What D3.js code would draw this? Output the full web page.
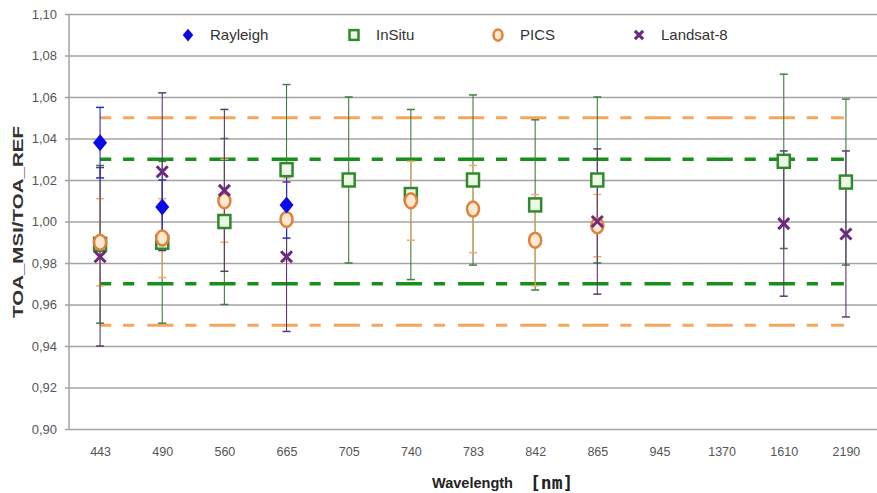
<!DOCTYPE html>
<html lang="en">
<head>
  <meta charset="UTF-8">
  <title>TOA_MSI / TOA_REF per band</title>
  <style>
    body { margin: 0; background: #fff; }
    svg { display: block; font-family: 'Liberation Sans', Arial, sans-serif; }
    .grid line { stroke: #a3a3a3; stroke-width: 1.5; }
    .ylab { font-size: 13px; fill: #555; }
    .xlab { font-size: 12.5px; fill: #555; }
    .leg { font-size: 15px; fill: #333; }
  </style>
  <script src="https://d3js.org/d3.v7.min.js"></script>
</head>
<body>
  <svg id="chart" width="877" height="493"></svg>
  <script>
    // bands (nm)
    const wavelengths = ["443", "490", "560", "665", "705", "740", "783", "842", "865", "945", "1370", "1610", "2190"];

    // ratio values and +/- uncertainty, null = no measurement
    const rayleigh    = [1.038, 1.007, null, 1.008, null, null, null, null, null, null, null, null, null];
    const rayleighErr = [0.017, 0.013, null, 0.016, null, null, null, null, null, null, null, null, null];
    const inSitu      = [0.989, 0.990, 1.000, 1.025, 1.020, 1.013, 1.020, 1.008, 1.020, null, null, 1.029, 1.019];
    const inSituErr   = [0.038, 0.039, 0.040, 0.041, 0.040, 0.041, 0.041, 0.041, 0.040, null, null, 0.042, 0.040];
    const pics        = [0.990, 0.992, 1.010, 1.001, null, 1.010, 1.006, 0.991, 0.998, null, null, null, null];
    const picsErr     = [0.021, 0.019, 0.020, 0.020, null, 0.019, 0.021, 0.022, 0.015, null, null, null, null];
    const landsat     = [0.983, 1.024, 1.015, 0.983, null, null, null, null, 1.000, null, null, 0.999, 0.994];
    const landsatErr  = [0.043, 0.038, 0.039, 0.036, null, null, null, null, 0.035, null, null, 0.035, 0.040];

    // requirement bands
    const picsLimits = [0.95, 1.05];
    const inSituLimits = [0.97, 1.03];

    const yTicks = [0.90, 0.92, 0.94, 0.96, 0.98, 1.00, 1.02, 1.04, 1.06, 1.08, 1.10];

    const svg = d3.select("#chart");
    const m = { left: 69, right: 877, top: 14, bottom: 429 };

    const x = d3.scalePoint().domain(wavelengths).range([m.left, m.right]).padding(0.5);
    const y = d3.scaleLinear().domain([0.90, 1.10]).range([m.bottom, m.top]);
    const step = x.step();
    const fmt = v => d3.format(".2f")(v).replace(".", ",");

    // grid + y axis
    const yAxis = d3.axisLeft(y).tickValues(yTicks).tickSize(0).tickFormat(fmt).tickPadding(8);
    const gy = svg.append("g").attr("class", "grid").attr("transform", `translate(${m.left - 4},0)`).call(yAxis);
    gy.select(".domain").remove();
    gy.selectAll("line").attr("x1", 0).attr("x2", m.right - m.left + 4);
    gy.selectAll("text").attr("class", "ylab").attr("x", -8);
    svg.append("line").attr("x1", m.left).attr("x2", m.left).attr("y1", m.top).attr("y2", m.bottom)
      .attr("stroke", "#a3a3a3").attr("stroke-width", 1.5);

    // x labels
    const gx = svg.append("g").attr("transform", `translate(0,${m.bottom})`)
      .call(d3.axisBottom(x).tickSize(0).tickPadding(18));
    gx.select(".domain").remove();
    gx.selectAll("text").attr("class", "xlab");

    // threshold dashed lines
    const dash = [0.42 * step, 0.19 * step, 0.18 * step, 0.21 * step].join(",");
    const x0 = x(wavelengths[0]), x1 = x(wavelengths[wavelengths.length - 1]);
    function limitLine(v, color, w) {
      svg.append("line").attr("x1", x0).attr("x2", x1 - 2).attr("y1", y(v)).attr("y2", y(v))
        .attr("stroke", color).attr("stroke-width", w)
        .attr("stroke-dasharray", dash).attr("stroke-dashoffset", 0.24 * step);
    }
    picsLimits.forEach(v => limitLine(v, "#f6a65c", 3));
    inSituLimits.forEach(v => limitLine(v, "#17901a", 3.5));

    const series = [
      { name: "InSitu", vals: inSitu, err: inSituErr, bar: "#3f7f3f", shape: "square" },
      { name: "PICS", vals: pics, err: picsErr, bar: "#f2aa6a", shape: "circle" },
      { name: "Landsat-8", vals: landsat, err: landsatErr, bar: "#5a3a6c", shape: "cross" },
      { name: "Rayleigh", vals: rayleigh, err: rayleighErr, bar: "#2b2bd0", shape: "diamond" }
    ];

    // error bars
    series.forEach(s => {
      const pts = wavelengths.map((w, i) => ({ w, v: s.vals[i], e: s.err[i] })).filter(d => d.v != null);
      const g = svg.append("g").attr("stroke", s.bar).attr("stroke-width", 1.1);
      g.selectAll(null).data(pts).join("line")
        .attr("x1", d => x(d.w)).attr("x2", d => x(d.w))
        .attr("y1", d => y(d.v + d.e)).attr("y2", d => y(d.v - d.e));
      [1, -1].forEach(sign => {
        g.selectAll(null).data(pts).join("line")
          .attr("x1", d => x(d.w) - 4).attr("x2", d => x(d.w) + 4)
          .attr("y1", d => y(d.v + sign * d.e)).attr("y2", d => y(d.v + sign * d.e))
          .attr("stroke-width", 1.5);
      });
    });

    function marker(g, shape, cx, cy, k) {
      if (shape === "square") {
        g.append("rect").attr("x", cx - 6 * k).attr("y", cy - 6.5 * k).attr("width", 12 * k).attr("height", 13 * k)
          .attr("fill", "#eef7e6").attr("stroke", "#2f8a2f").attr("stroke-width", 2.5);
      } else if (shape === "circle") {
        g.append("ellipse").attr("cx", cx).attr("cy", cy).attr("rx", 6 * k).attr("ry", 7.5 * k)
          .attr("fill", "#fde9d2").attr("stroke", "#e2813a").attr("stroke-width", 2.5);
      } else if (shape === "cross") {
        const r = 5.5 * k;
        g.append("path").attr("d", `M${cx - r},${cy - r}L${cx + r},${cy + r}M${cx - r},${cy + r}L${cx + r},${cy - r}`)
          .attr("stroke", "#6b2a80").attr("stroke-width", 3).attr("fill", "none");
      } else {
        const rx = 7 * k, ry = 8.5 * k;
        g.append("path").attr("d", `M${cx},${cy - ry}L${cx + rx},${cy}L${cx},${cy + ry}L${cx - rx},${cy}Z`)
          .attr("fill", "#0a0ae6");
      }
    }

    // markers
    series.forEach(s => {
      const g = svg.append("g");
      wavelengths.forEach((w, i) => {
        if (s.vals[i] != null) marker(g, s.shape, x(w), y(s.vals[i]), 1);
      });
    });

    // legend
    const legend = [
      { name: "Rayleigh", shape: "diamond", mx: 188 },
      { name: "InSitu", shape: "square", mx: 354 },
      { name: "PICS", shape: "circle", mx: 498 },
      { name: "Landsat-8", shape: "cross", mx: 639 }
    ];
    const gl = svg.append("g");
    legend.forEach(l => {
      marker(gl, l.shape, l.mx, 35, 0.75);
      gl.append("text").attr("class", "leg").attr("x", l.mx + 22).attr("y", 40).text(l.name);
    });

    // axis titles
    svg.append("text").attr("transform", "translate(23,222) rotate(-90)")
      .attr("text-anchor", "middle").attr("font-weight", "bold").attr("font-size", 14)
      .attr("fill", "#333").attr("textLength", 192).attr("lengthAdjust", "spacingAndGlyphs")
      .text("TOA_MSI/TOA_REF");
    svg.append("text").attr("x", 432).attr("y", 488).attr("font-weight", "bold").attr("font-size", 14)
      .attr("fill", "#222").attr("textLength", 81).attr("lengthAdjust", "spacingAndGlyphs").text("Wavelength");
    svg.append("text").attr("x", 530).attr("y", 489).attr("font-weight", "bold").attr("font-size", 18)
      .attr("font-family", "'DejaVu Sans Mono', monospace").attr("fill", "#222")
      .text("[nm]");
  </script>
</body>
</html>
